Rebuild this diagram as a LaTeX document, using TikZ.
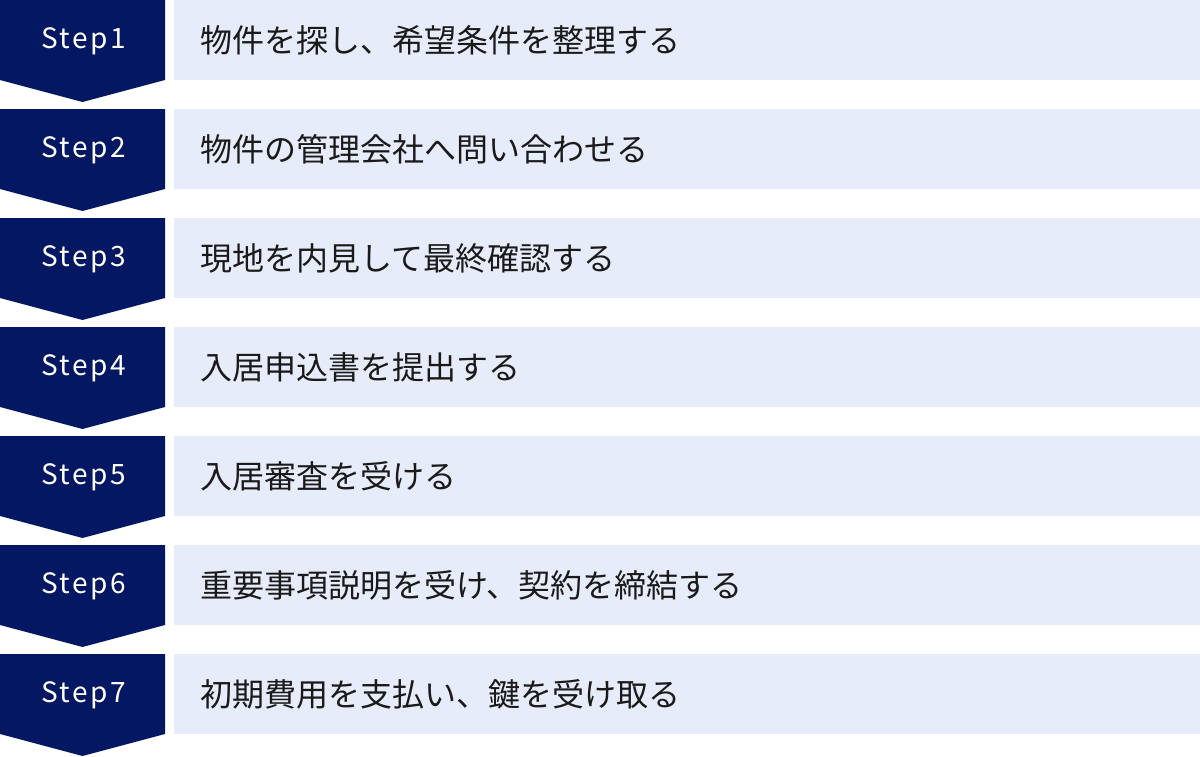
\documentclass[tikz,border=0pt]{standalone}
\usepackage{fontspec}
\setmainfont{Noto Sans CJK JP}
\definecolor{navy}{HTML}{041762}
\definecolor{pale}{HTML}{E6ECF9}
\definecolor{ink}{HTML}{1A1A1A}
\begin{document}
\begin{tikzpicture}[x=1pt,y=-1pt,
  stepshape/.style={fill=navy,draw=none},
  stepbox/.style={fill=pale,draw=none},
  steplabel/.style={text=white,font=\fontsize{28}{34}\selectfont,inner sep=0pt,anchor=center},
  desc/.style={text=ink,font=\fontsize{32}{38}\selectfont,inner sep=0pt,anchor=west}]
\useasboundingbox (0,0) rectangle (1200,756);
\foreach \i/\t in {1/物件を探し、希望条件を整理する,
                   2/物件の管理会社へ問い合わせる,
                   3/現地を内見して最終確認する,
                   4/入居申込書を提出する,
                   5/入居審査を受ける,
                   6/重要事項説明を受け、契約を締結する,
                   7/初期費用を支払い、鍵を受け取る}{
  \pgfmathsetmacro{\y}{(\i-1)*109}
  \fill[stepshape] (0,\y) -- (165,\y) -- (165,\y+80) -- (82.5,\y+102) -- (0,\y+80) -- cycle;
  \fill[stepbox] (174,\y) rectangle (1200,\y+80);
  \node[steplabel] (s\i) at (83.5,\y+41) {\addfontfeatures{LetterSpace=9}Step\i};
  \node[desc] (d\i) at (200,\y+40) {\t};
}
\end{tikzpicture}
\end{document}
